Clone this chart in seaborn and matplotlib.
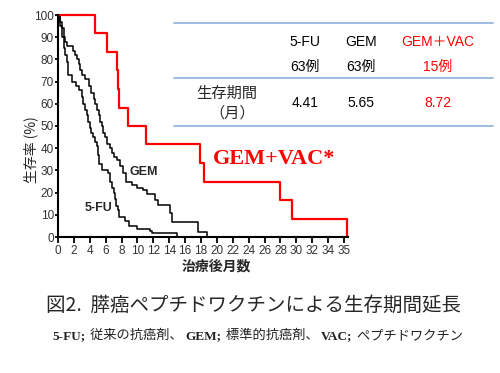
import matplotlib
matplotlib.use("Agg")
import matplotlib.pyplot as plt
from matplotlib.lines import Line2D
import seaborn as sns

# survival curves (months, % surviving)
fu_t = [0, 0.25, 0.5, 0.7, 0.9, 1.1, 1.3, 1.7, 2.3, 2.7, 3.0, 3.2, 3.4, 3.6, 3.8, 4.0, 4.2,
        4.4, 4.6, 4.9, 5.05, 5.2, 5.5, 6.3, 6.5, 6.8, 7.0, 7.2, 7.35, 7.5, 7.7, 8.4, 8.9,
        9.9, 11.6, 11.8, 15.0]
fu_s = [100, 95, 90, 85, 82, 79, 73, 70, 68, 66, 63, 60, 57, 55, 52, 49, 47,
        45, 43, 41, 37, 33, 30, 29, 25, 22, 20, 17, 14, 12, 9, 7, 5,
        3.5, 2.5, 1.6, 0]
gem_t = [0, 0.3, 0.5, 0.7, 0.9, 1.1, 1.9, 2.2, 2.4, 2.6, 2.8, 3.0, 3.4, 3.9, 4.2, 4.5, 4.7,
         4.9, 5.1, 5.3, 5.5, 5.7, 5.9, 6.2, 6.5, 6.8, 7.1, 7.4, 7.8, 8.2, 8.6, 9.3, 9.9,
         10.7, 11.2, 12.2, 12.6, 14.1, 14.3, 17.6, 18.7]
gem_s = [100, 97, 94, 90, 88, 86, 84, 82, 80, 78, 75, 73, 71, 68, 65, 62, 60,
         57, 55, 52, 50, 47, 45, 42, 40, 38, 36, 34.6, 32, 29, 25, 23.4, 22,
         21, 19.5, 16.7, 14.3, 10.7, 6.9, 2.4, 0]
vac_t = [0, 4.6, 6.2, 7.45, 7.6, 7.7, 8.8, 11.1, 17.9, 18.4, 27.9, 29.5, 36.4]
vac_s = [100, 91.7, 83.3, 75, 66.7, 58.3, 50, 41.7, 33.3, 25, 16.7, 8.3, 0]

xticks = list(range(0, 35, 2)) + [36]
xlabels = [str(v) for v in range(0, 35, 2)] + ["35"]
yticks = list(range(0, 101, 10))

groups = ["5-FU", "GEM", "GEM＋VAC"]
cases = ["63例", "63例", "15例"]
medians = ["4.41", "5.65", "8.72"]

W, H = 500, 373
sns.set_theme(style="white")
plt.rcParams["font.family"] = ["Liberation Sans", "Noto Sans CJK JP"]
cjk = ["Noto Sans CJK JP", "DejaVu Sans"]
mixed = ["Liberation Sans", "Noto Sans CJK JP"]

fig = plt.figure(figsize=(W / 100, H / 100), dpi=100)
ax = fig.add_axes([58 / W, 1 - 237 / H, 290 / W, 222 / H])

sns.lineplot(x=fu_t, y=fu_s, drawstyle="steps-post", estimator=None, sort=False,
             color="black", lw=1.1, ax=ax, clip_on=False)
sns.lineplot(x=gem_t, y=gem_s, drawstyle="steps-post", estimator=None, sort=False,
             color="black", lw=1.1, ax=ax, clip_on=False)
sns.lineplot(x=vac_t, y=vac_s, drawstyle="steps-post", estimator=None, sort=False,
             color="#ff0000", lw=1.6, ax=ax, clip_on=False)

ax.set_xlim(0, 36.5)
ax.set_ylim(0, 100)
ax.set_xticks(xticks)
ax.set_xticklabels(xlabels)
ax.set_yticks(yticks)
sns.despine(ax=ax)
for sp in ["left", "bottom"]:
    ax.spines[sp].set_linewidth(1.5)
    ax.spines[sp].set_color("black")
ax.tick_params(axis="x", direction="out", length=4.5, width=1.3, pad=1.5,
               labelsize=8.5, labelcolor="#333333", color="black", bottom=True)
ax.tick_params(axis="y", direction="out", length=2.5, width=1.3, pad=0.5,
               labelsize=8.5, labelcolor="#333333", color="black", left=True)
ax.set_xlabel("")
ax.set_ylabel("")

# curve labels
ax.text(9.0, 29.5, "GEM", fontsize=9, weight="bold", ha="left", va="center")
ax.text(3.4, 13, "5-FU", fontsize=9, weight="bold", ha="left", va="center")
ax.text(19.5, 35, "GEM+VAC*", family="Liberation Serif", fontsize=16, weight="bold",
        color="#ff0000", ha="left", va="center")

fig.text(31 / W, 1 - 150 / H, "生存率 (%)", rotation=90, family=cjk, fontsize=10,
         ha="center", va="center")
fig.text(216 / W, 1 - 266 / H, "治療後月数", family=cjk, fontsize=10, weight="bold",
         ha="center", va="center")

# table
for yy in [23, 78, 126]:
    fig.add_artist(Line2D([174 / W, 493 / W], [1 - yy / H] * 2, transform=fig.transFigure,
                          color="#8eb0dc", lw=1.2))
col_x = [305, 361, 438]
for i, gx in enumerate(col_x):
    c = "#ff0000" if i == 2 else "black"
    fig.text(gx / W, 1 - 42 / H, groups[i], family=mixed, fontsize=10, color=c, ha="center", va="center")
    fig.text(gx / W, 1 - 67 / H, cases[i], family=mixed, fontsize=10, color=c, ha="center", va="center")
    fig.text(gx / W, 1 - 103 / H, medians[i], family=mixed, fontsize=10, color=c, ha="center", va="center")
fig.text(227 / W, 1 - 93 / H, "生存期間", family=cjk, fontsize=11, ha="center", va="center")
fig.text(232 / W, 1 - 113 / H, "（月）", family=cjk, fontsize=11, ha="center", va="center")

# caption
fig.text(253 / W, 1 - 305 / H, "図2.  膵癌ペプチドワクチンによる生存期間延長", family=cjk,
         fontsize=14, ha="center", va="center")

pieces = [("5-FU;", "Liberation Serif", "bold"), (" 従来の抗癌剤、", "Noto Sans CJK JP", "normal"),
          ("GEM;", "Liberation Serif", "bold"), (" 標準的抗癌剤、", "Noto Sans CJK JP", "normal"),
          ("VAC;", "Liberation Serif", "bold"), (" ペプチドワクチン", "Noto Sans CJK JP", "normal")]
fig.canvas.draw()
r = fig.canvas.get_renderer()
x = 52
for s, fam, w in pieces:
    t = fig.text(x / W, 1 - 339 / H, s, family=[fam, "DejaVu Sans"], weight=w, fontsize=9.5,
                 color="#222222", ha="left", va="baseline")
    x = t.get_window_extent(r).x1 + 2

fig.savefig("out.png", dpi=100)
